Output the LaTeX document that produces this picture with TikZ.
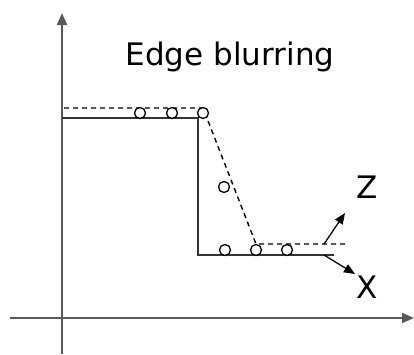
\documentclass[tikz,border=0pt]{standalone}
\usepackage{fontspec}
\setmainfont{DejaVu Sans}
\usetikzlibrary{arrows.meta}
\begin{document}
\begin{tikzpicture}[x=1pt,y=-1pt,
  axis/.style={draw=black!65,line width=2pt,-{Triangle[length=12pt,width=10pt]}},
  solidline/.style={draw=black!80,line width=1.8pt},
  dashline/.style={draw=black,line width=1.4pt,dash pattern=on 5pt off 4pt},
  dot/.style={circle,draw=black,line width=1.3pt,minimum size=11pt,inner sep=0pt,fill=white},
  lbl/.style={font=\fontsize{31}{34}\selectfont,inner sep=0pt},
  pointer/.style={draw=black,line width=1.3pt,-{Triangle[length=11pt,width=9pt]}}]
\useasboundingbox (0,0) rectangle (414,354);
% axes
\coordinate (ybot) at (62,354);
\coordinate (ytop) at (62,13);
\coordinate (xl) at (10,318);
\coordinate (xr) at (414,318);
\draw[axis] (ybot) -- (ytop);
\draw[axis] (xl) -- (xr);
% solid step edge
\coordinate (s1) at (62,118);
\coordinate (s2) at (198,118);
\coordinate (s3) at (198,255);
\coordinate (s4) at (334,255);
\draw[solidline] (s1) -- (s2) -- (s3) -- (s4);
% dashed blurred edge
\coordinate (d1) at (64,108);
\coordinate (d2) at (203,108);
\coordinate (d3) at (256,244);
\coordinate (d4) at (345,244);
\draw[dashline] (d1) -- (d2) -- (d3) -- (d4);
% sample points
\node[dot] (c1) at (140,113) {};
\node[dot] (c2) at (172,113) {};
\node[dot] (c3) at (203,113) {};
\node[dot] (c4) at (224,187) {};
\node[dot] (c5) at (225,250) {};
\node[dot] (c6) at (256,250) {};
\node[dot] (c7) at (287,250) {};
% title
\node[lbl] (title) at (230,57) {Edge blurring};
% direction arrows
\coordinate (zs) at (324,244);
\coordinate (ze) at (345,213);
\coordinate (xs) at (324,255);
\coordinate (xe) at (355,274);
\draw[pointer] (zs) -- (ze);
\draw[pointer] (xs) -- (xe);
\node[lbl] (Z) at (367,187) {Z};
\node[lbl] (X) at (367,287) {X};
\end{tikzpicture}
\end{document}
